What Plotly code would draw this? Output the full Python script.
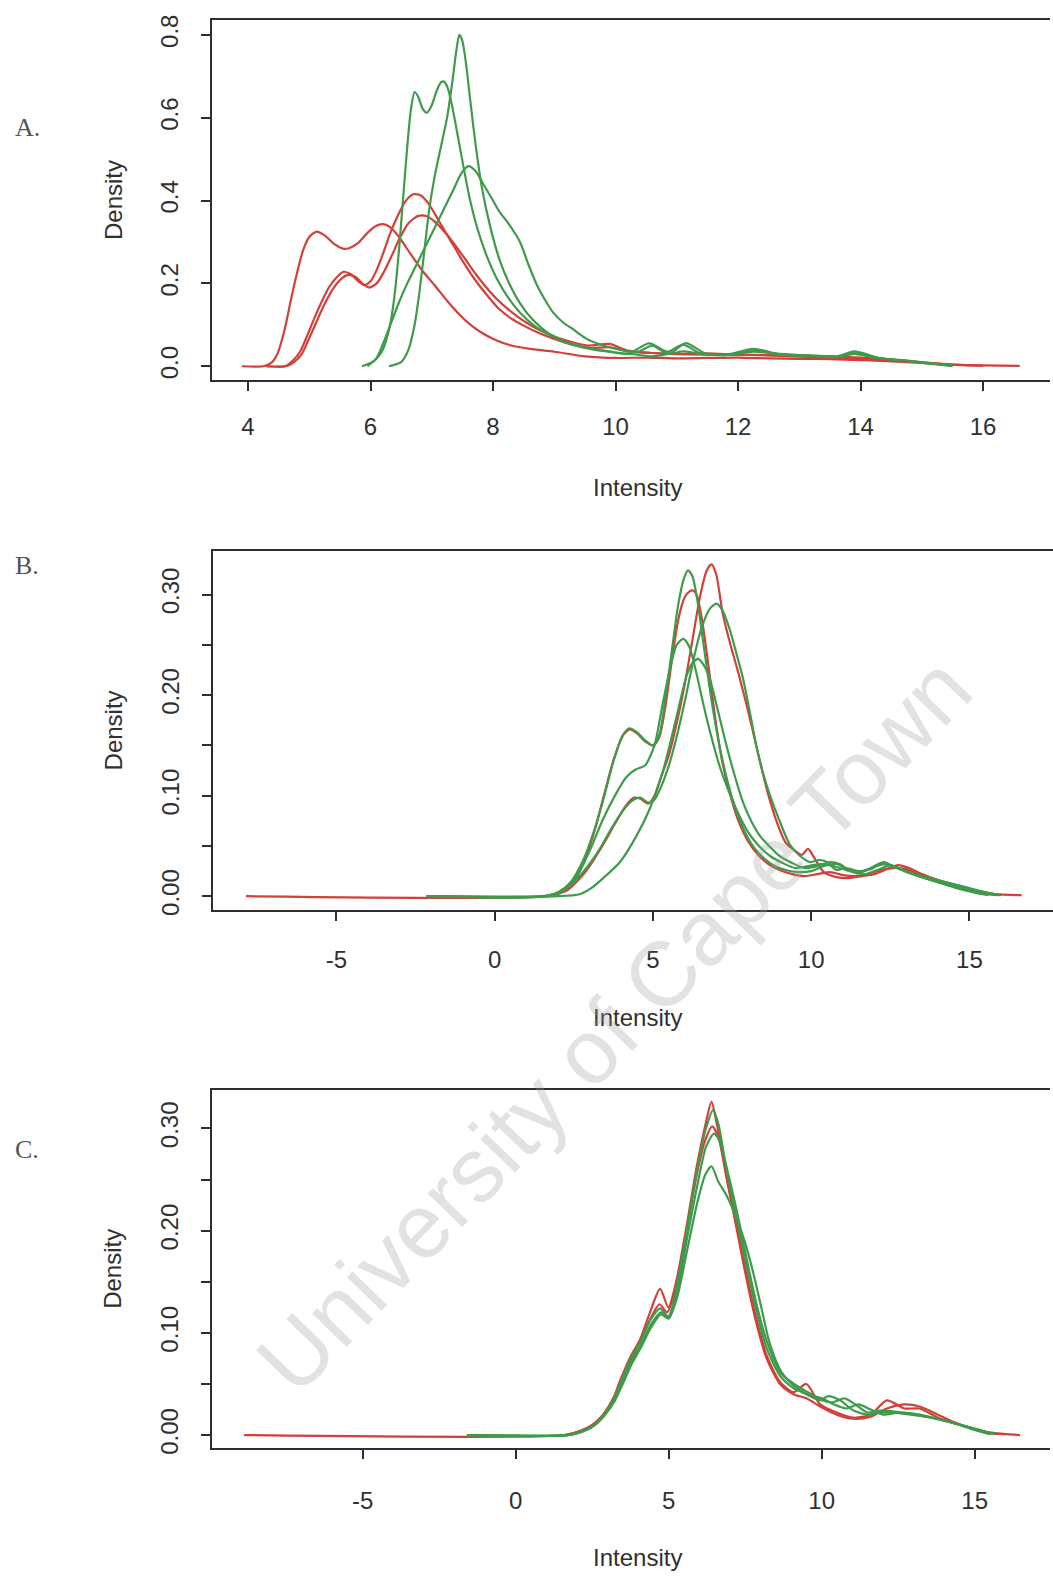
import plotly.graph_objects as go

W, H = 1053, 1581
RED = "#d2403a"
GREEN = "#3f9b4c"
INK = "#2e2e2e"

# ---------------- Panel A: raw intensities ----------------
a_red_1_x = [3.90, 4.25, 4.38, 4.48, 4.60, 4.70, 4.80, 4.90, 5.00, 5.12, 5.25, 5.40, 5.55, 5.65, 5.80, 5.95, 6.08, 6.20, 6.32, 6.45, 6.65, 6.85, 7.05, 7.25, 7.45, 7.65, 7.85, 8.05, 8.30, 8.60, 9.00, 9.50, 10.00, 10.50, 11.00, 11.50, 12.00, 12.50, 13.00, 13.50, 14.00, 14.50, 15.00, 15.50, 16.00, 16.60]
a_red_1_y = [0.000, 0.000, 0.008, 0.030, 0.090, 0.160, 0.225, 0.280, 0.312, 0.325, 0.316, 0.296, 0.284, 0.285, 0.298, 0.322, 0.338, 0.343, 0.336, 0.315, 0.272, 0.230, 0.195, 0.158, 0.125, 0.098, 0.078, 0.063, 0.050, 0.042, 0.035, 0.024, 0.020, 0.021, 0.019, 0.020, 0.021, 0.019, 0.018, 0.017, 0.015, 0.012, 0.008, 0.004, 0.002, 0.001]

a_red_2_x = [4.30, 4.60, 4.72, 4.85, 4.97, 5.08, 5.20, 5.32, 5.45, 5.56, 5.68, 5.80, 5.90, 6.00, 6.10, 6.20, 6.32, 6.45, 6.57, 6.70, 6.82, 6.95, 7.10, 7.30, 7.50, 7.70, 7.90, 8.10, 8.30, 8.50, 8.75, 9.00, 9.30, 9.60, 9.90, 10.20, 10.60, 11.00, 11.50, 12.00, 12.50, 13.00, 13.50, 14.00, 14.50, 15.00, 15.50]
a_red_2_y = [0.000, 0.000, 0.012, 0.035, 0.075, 0.115, 0.155, 0.190, 0.215, 0.228, 0.222, 0.205, 0.196, 0.205, 0.232, 0.270, 0.320, 0.365, 0.398, 0.415, 0.412, 0.392, 0.355, 0.305, 0.255, 0.210, 0.172, 0.138, 0.115, 0.098, 0.080, 0.066, 0.052, 0.044, 0.046, 0.036, 0.032, 0.030, 0.031, 0.028, 0.027, 0.026, 0.024, 0.021, 0.016, 0.010, 0.003]

a_red_3_x = [4.30, 4.62, 4.75, 4.88, 5.00, 5.12, 5.25, 5.38, 5.50, 5.62, 5.75, 5.88, 5.98, 6.10, 6.22, 6.35, 6.48, 6.62, 6.78, 6.92, 7.08, 7.28, 7.50, 7.72, 7.95, 8.15, 8.40, 8.65, 8.90, 9.20, 9.55, 9.90, 10.20, 10.60, 11.00, 11.50, 12.00, 12.50, 13.00, 13.50, 14.00, 14.50, 15.00, 15.50, 16.00]
a_red_3_y = [0.000, 0.000, 0.010, 0.030, 0.068, 0.108, 0.150, 0.185, 0.208, 0.220, 0.216, 0.198, 0.190, 0.200, 0.228, 0.268, 0.310, 0.345, 0.363, 0.362, 0.345, 0.312, 0.268, 0.222, 0.180, 0.150, 0.120, 0.096, 0.078, 0.062, 0.050, 0.054, 0.038, 0.032, 0.029, 0.028, 0.028, 0.026, 0.023, 0.021, 0.018, 0.014, 0.009, 0.004, 0.001]

a_green_1_x = [6.30, 6.50, 6.62, 6.72, 6.80, 6.88, 6.96, 7.05, 7.15, 7.25, 7.33, 7.40, 7.45, 7.50, 7.56, 7.63, 7.72, 7.82, 7.95, 8.10, 8.28, 8.45, 8.65, 8.90, 9.20, 9.55, 9.90, 10.20, 10.55, 10.85, 11.10, 11.40, 11.80, 12.25, 12.70, 13.20, 13.60, 13.90, 14.30, 14.80, 15.20, 15.50]
a_green_1_y = [0.000, 0.010, 0.040, 0.100, 0.180, 0.280, 0.380, 0.460, 0.530, 0.600, 0.680, 0.760, 0.800, 0.785, 0.730, 0.640, 0.530, 0.430, 0.340, 0.260, 0.195, 0.150, 0.112, 0.080, 0.058, 0.044, 0.036, 0.030, 0.055, 0.035, 0.052, 0.030, 0.028, 0.038, 0.028, 0.026, 0.024, 0.032, 0.020, 0.013, 0.006, 0.001]

a_green_2_x = [5.86, 6.05, 6.20, 6.32, 6.40, 6.47, 6.54, 6.60, 6.66, 6.72, 6.78, 6.85, 6.92, 7.00, 7.08, 7.15, 7.20, 7.26, 7.33, 7.42, 7.52, 7.62, 7.75, 7.90, 8.05, 8.25, 8.45, 8.70, 9.00, 9.30, 9.65, 10.00, 10.30, 10.60, 10.90, 11.15, 11.45, 11.80, 12.25, 12.70, 13.20, 13.60, 13.90, 14.30, 14.80, 15.20, 15.50]
a_green_2_y = [0.000, 0.012, 0.040, 0.100, 0.180, 0.290, 0.420, 0.530, 0.620, 0.662, 0.650, 0.622, 0.612, 0.630, 0.665, 0.685, 0.687, 0.672, 0.630, 0.560, 0.480, 0.405, 0.330, 0.265, 0.215, 0.165, 0.128, 0.095, 0.070, 0.052, 0.040, 0.033, 0.029, 0.024, 0.032, 0.056, 0.032, 0.027, 0.035, 0.030, 0.025, 0.022, 0.030, 0.019, 0.012, 0.006, 0.001]

a_green_3_x = [5.95, 6.10, 6.22, 6.35, 6.48, 6.60, 6.75, 6.90, 7.05, 7.20, 7.35, 7.48, 7.60, 7.72, 7.84, 7.98, 8.11, 8.25, 8.44, 8.58, 8.72, 8.85, 8.98, 9.15, 9.30, 9.53, 9.80, 10.07, 10.35, 10.60, 10.85, 11.10, 11.40, 11.80, 12.25, 12.70, 13.20, 13.60, 13.90, 14.30, 14.80, 15.20, 15.50]
a_green_3_y = [0.000, 0.020, 0.060, 0.110, 0.160, 0.200, 0.245, 0.290, 0.335, 0.380, 0.425, 0.465, 0.483, 0.470, 0.440, 0.405, 0.372, 0.345, 0.300, 0.245, 0.195, 0.160, 0.130, 0.105, 0.090, 0.066, 0.050, 0.040, 0.034, 0.050, 0.030, 0.036, 0.030, 0.027, 0.042, 0.028, 0.025, 0.023, 0.036, 0.020, 0.012, 0.005, 0.001]

# ---------------- Panel B: background corrected ----------------
b_red_1_x = [-7.86, 1.60, 2.10, 2.50, 2.90, 3.20, 3.45, 3.75, 4.05, 4.27, 4.50, 4.75, 5.01, 5.20, 5.40, 5.60, 5.80, 6.00, 6.15, 6.27, 6.40, 6.55, 6.75, 7.00, 7.20, 7.45, 7.70, 8.00, 8.30, 8.65, 9.00, 9.40, 9.80, 10.20, 10.60, 11.00, 11.40, 11.80, 12.20, 12.60, 13.00, 13.40, 13.80, 14.30, 14.80, 15.30, 15.80, 16.65]
b_red_1_y = [0.000, 0.000, 0.004, 0.015, 0.040, 0.070, 0.100, 0.135, 0.160, 0.166, 0.162, 0.154, 0.150, 0.158, 0.190, 0.235, 0.275, 0.297, 0.303, 0.304, 0.298, 0.275, 0.230, 0.170, 0.132, 0.100, 0.075, 0.055, 0.042, 0.032, 0.026, 0.022, 0.020, 0.022, 0.024, 0.021, 0.020, 0.022, 0.026, 0.028, 0.027, 0.022, 0.018, 0.013, 0.009, 0.005, 0.002, 0.001]

b_red_2_x = [1.80, 2.30, 2.70, 3.00, 3.40, 3.80, 4.10, 4.40, 4.60, 4.85, 5.05, 5.25, 5.50, 5.75, 6.00, 6.25, 6.50, 6.70, 6.85, 7.00, 7.20, 7.45, 7.70, 8.00, 8.30, 8.60, 8.90, 9.20, 9.50, 9.70, 9.90, 10.10, 10.40, 10.80, 11.20, 11.60, 12.00, 12.40, 12.75, 13.10, 13.50, 14.00, 14.50, 15.00, 15.50, 16.00]
b_red_2_y = [0.000, 0.006, 0.018, 0.030, 0.050, 0.072, 0.088, 0.098, 0.097, 0.092, 0.100, 0.118, 0.140, 0.172, 0.210, 0.255, 0.300, 0.324, 0.330, 0.320, 0.282, 0.250, 0.222, 0.185, 0.145, 0.106, 0.075, 0.053, 0.045, 0.041, 0.047, 0.038, 0.024, 0.019, 0.018, 0.020, 0.022, 0.027, 0.031, 0.028, 0.022, 0.016, 0.011, 0.007, 0.003, 0.001]

b_green_1_x = [-2.15, 1.50, 2.00, 2.40, 2.80, 3.15, 3.45, 3.75, 4.05, 4.25, 4.50, 4.75, 5.00, 5.20, 5.40, 5.60, 5.80, 5.98, 6.11, 6.25, 6.40, 6.60, 6.85, 7.10, 7.35, 7.60, 7.90, 8.20, 8.50, 8.85, 9.20, 9.60, 10.00, 10.40, 10.80, 11.20, 11.60, 12.00, 12.30, 12.70, 13.10, 13.50, 14.00, 14.50, 15.00, 15.50, 15.95]
b_green_1_y = [0.000, 0.000, 0.004, 0.014, 0.036, 0.066, 0.098, 0.134, 0.160, 0.167, 0.163, 0.155, 0.150, 0.160, 0.198, 0.245, 0.290, 0.316, 0.324, 0.318, 0.295, 0.250, 0.195, 0.150, 0.115, 0.088, 0.064, 0.048, 0.038, 0.030, 0.026, 0.024, 0.025, 0.030, 0.032, 0.026, 0.024, 0.030, 0.034, 0.028, 0.024, 0.020, 0.016, 0.012, 0.008, 0.004, 0.001]

b_green_2_x = [-2.15, 1.60, 2.10, 2.50, 2.90, 3.30, 3.70, 4.05, 4.35, 4.60, 4.85, 5.05, 5.30, 5.55, 5.80, 6.05, 6.30, 6.55, 6.80, 7.01, 7.20, 7.43, 7.65, 7.85, 8.05, 8.27, 8.50, 8.70, 9.00, 9.33, 9.65, 9.96, 10.25, 10.50, 10.80, 11.10, 11.50, 11.90, 12.20, 12.60, 13.00, 13.40, 13.90, 14.40, 14.90, 15.40, 15.90]
b_green_2_y = [0.000, 0.000, 0.005, 0.014, 0.028, 0.046, 0.068, 0.085, 0.095, 0.098, 0.093, 0.096, 0.112, 0.135, 0.165, 0.200, 0.238, 0.268, 0.286, 0.291, 0.284, 0.265, 0.240, 0.216, 0.185, 0.149, 0.120, 0.100, 0.075, 0.051, 0.040, 0.034, 0.036, 0.034, 0.026, 0.028, 0.025, 0.027, 0.033, 0.030, 0.025, 0.020, 0.016, 0.012, 0.008, 0.004, 0.001]

b_green_3_x = [-2.15, 1.70, 2.20, 2.60, 3.00, 3.40, 3.80, 4.15, 4.45, 4.75, 5.05, 5.30, 5.55, 5.75, 5.96, 6.15, 6.35, 6.60, 6.85, 7.10, 7.40, 7.70, 8.00, 8.35, 8.70, 9.10, 9.50, 9.90, 10.30, 10.70, 11.10, 11.50, 11.90, 12.30, 12.70, 13.10, 13.60, 14.10, 14.60, 15.10, 15.60]
b_green_3_y = [0.000, 0.000, 0.006, 0.020, 0.045, 0.075, 0.100, 0.118, 0.126, 0.130, 0.150, 0.190, 0.228, 0.250, 0.256, 0.248, 0.225, 0.190, 0.158, 0.130, 0.104, 0.082, 0.064, 0.050, 0.040, 0.033, 0.028, 0.030, 0.032, 0.030, 0.026, 0.024, 0.028, 0.032, 0.028, 0.023, 0.018, 0.013, 0.008, 0.004, 0.001]

b_green_4_x = [-2.15, 2.00, 2.69, 3.05, 3.43, 3.96, 4.48, 4.90, 5.33, 5.75, 6.06, 6.25, 6.43, 6.60, 6.80, 7.05, 7.33, 7.60, 7.85, 8.10, 8.38, 8.70, 9.00, 9.40, 9.80, 10.20, 10.60, 10.90, 11.30, 11.70, 12.10, 12.50, 12.90, 13.30, 13.80, 14.30, 14.80, 15.30, 15.90]
b_green_4_y = [0.000, 0.000, 0.002, 0.008, 0.018, 0.034, 0.060, 0.087, 0.126, 0.179, 0.219, 0.232, 0.236, 0.230, 0.216, 0.185, 0.149, 0.118, 0.093, 0.075, 0.060, 0.049, 0.040, 0.033, 0.028, 0.030, 0.034, 0.032, 0.024, 0.022, 0.026, 0.031, 0.026, 0.021, 0.016, 0.011, 0.007, 0.003, 0.001]

# ---------------- Panel C: normalised ----------------
c_red_1_x = [-8.87, 1.60, 2.10, 2.50, 2.86, 3.19, 3.41, 3.74, 4.06, 4.39, 4.72, 4.99, 5.26, 5.59, 5.92, 6.19, 6.40, 6.57, 6.90, 7.22, 7.55, 7.88, 8.20, 8.64, 9.08, 9.50, 9.95, 10.49, 11.04, 11.60, 12.13, 12.70, 13.20, 13.80, 14.30, 14.85, 15.40, 16.00, 16.48]
c_red_1_y = [0.000, 0.000, 0.004, 0.009, 0.020, 0.036, 0.053, 0.076, 0.093, 0.120, 0.143, 0.125, 0.152, 0.205, 0.263, 0.302, 0.326, 0.305, 0.253, 0.205, 0.156, 0.112, 0.078, 0.052, 0.042, 0.050, 0.030, 0.022, 0.017, 0.020, 0.034, 0.026, 0.026, 0.017, 0.012, 0.007, 0.002, 0.001, 0.000]

c_red_2_x = [1.60, 2.10, 2.50, 2.86, 3.19, 3.41, 3.74, 4.06, 4.39, 4.70, 4.95, 5.26, 5.59, 5.92, 6.19, 6.42, 6.62, 6.90, 7.22, 7.55, 7.88, 8.20, 8.64, 9.08, 9.50, 9.95, 10.49, 11.04, 11.60, 12.13, 12.70, 13.20, 13.80, 14.30, 14.85, 15.40, 16.00]
c_red_2_y = [0.000, 0.004, 0.010, 0.020, 0.035, 0.050, 0.072, 0.090, 0.113, 0.128, 0.120, 0.148, 0.200, 0.255, 0.288, 0.302, 0.292, 0.250, 0.202, 0.152, 0.108, 0.075, 0.050, 0.040, 0.036, 0.028, 0.020, 0.016, 0.018, 0.026, 0.030, 0.028, 0.020, 0.013, 0.007, 0.003, 0.001]

c_green_1_x = [-1.59, 1.70, 2.10, 2.50, 2.86, 3.19, 3.41, 3.74, 4.06, 4.39, 4.72, 4.99, 5.26, 5.59, 5.92, 6.20, 6.45, 6.62, 6.90, 7.22, 7.55, 7.88, 8.20, 8.64, 9.08, 9.50, 9.95, 10.20, 10.60, 11.04, 11.50, 11.90, 12.40, 12.90, 13.40, 13.90, 14.40, 14.90, 15.40, 15.70]
c_green_1_y = [0.000, 0.000, 0.003, 0.008, 0.019, 0.034, 0.050, 0.074, 0.090, 0.112, 0.124, 0.116, 0.145, 0.200, 0.258, 0.298, 0.318, 0.305, 0.258, 0.212, 0.165, 0.120, 0.085, 0.058, 0.046, 0.040, 0.034, 0.038, 0.034, 0.024, 0.020, 0.022, 0.022, 0.020, 0.018, 0.015, 0.011, 0.007, 0.003, 0.001]

c_green_2_x = [-1.59, 1.70, 2.15, 2.55, 2.90, 3.25, 3.50, 3.80, 4.10, 4.42, 4.75, 5.00, 5.28, 5.60, 5.94, 6.22, 6.48, 6.66, 6.95, 7.28, 7.60, 7.92, 8.25, 8.68, 9.10, 9.55, 10.00, 10.35, 10.75, 11.10, 11.50, 11.90, 12.40, 12.90, 13.40, 13.90, 14.40, 14.90, 15.40, 15.70]
c_green_2_y = [0.000, 0.000, 0.003, 0.009, 0.020, 0.036, 0.052, 0.072, 0.088, 0.108, 0.120, 0.115, 0.140, 0.192, 0.245, 0.282, 0.295, 0.288, 0.255, 0.212, 0.165, 0.122, 0.088, 0.060, 0.050, 0.042, 0.034, 0.032, 0.036, 0.030, 0.022, 0.024, 0.023, 0.021, 0.018, 0.015, 0.011, 0.007, 0.003, 0.001]

c_green_3_x = [-1.59, 1.70, 2.15, 2.55, 2.90, 3.25, 3.50, 3.80, 4.10, 4.42, 4.75, 5.00, 5.28, 5.60, 5.94, 6.20, 6.40, 6.62, 6.90, 7.22, 7.50, 7.77, 8.05, 8.30, 8.68, 9.10, 9.55, 10.00, 10.40, 10.80, 11.20, 11.60, 12.00, 12.50, 13.00, 13.50, 14.00, 14.50, 15.00, 15.50]
c_green_3_y = [0.000, 0.000, 0.003, 0.009, 0.019, 0.034, 0.050, 0.070, 0.086, 0.105, 0.118, 0.114, 0.135, 0.180, 0.228, 0.255, 0.263, 0.248, 0.234, 0.212, 0.188, 0.158, 0.122, 0.090, 0.062, 0.048, 0.040, 0.036, 0.030, 0.026, 0.030, 0.025, 0.020, 0.022, 0.021, 0.018, 0.014, 0.010, 0.005, 0.001]

# ---------------- axes ----------------
a_xticks = [4, 6, 8, 10, 12, 14, 16]
a_yticks = [0.0, 0.2, 0.4, 0.6, 0.8]
a_ytext = ["0.0", "0.2", "0.4", "0.6", "0.8"]
bc_xticks = [-5, 0, 5, 10, 15]
bc_yticks = [0.00, 0.05, 0.10, 0.15, 0.20, 0.25, 0.30]
bc_ytext = ["0.00", "", "0.10", "", "0.20", "", "0.30"]

panels = [
    dict(ax="", box=(212, 1050, 15, 378), xr=[3.412, 17.094], yr=[-0.0335, 0.836],
         xt=a_xticks, yt=a_yticks, ytt=a_ytext, xstand=15,
         red=[(a_red_1_x, a_red_1_y), (a_red_2_x, a_red_2_y), (a_red_3_x, a_red_3_y)],
         green=[(a_green_1_x, a_green_1_y), (a_green_2_x, a_green_2_y), (a_green_3_x, a_green_3_y)],
         tag="A.", tag_y=123, title_y=486),
    dict(ax="2", box=(213, 1053, 550, 912), xr=[-8.90, 17.64], yr=[-0.0138, 0.3435],
         xt=bc_xticks, yt=bc_yticks, ytt=bc_ytext, xstand=18,
         red=[(b_red_1_x, b_red_1_y), (b_red_2_x, b_red_2_y)],
         green=[(b_green_1_x, b_green_1_y), (b_green_2_x, b_green_2_y),
                (b_green_3_x, b_green_3_y), (b_green_4_x, b_green_4_y)],
         tag="B.", tag_y=565, title_y=1020),
    dict(ax="3", box=(212, 1050, 1093, 1454), xr=[-9.92, 17.46], yr=[-0.0126, 0.3379],
         xt=bc_xticks, yt=bc_yticks, ytt=bc_ytext, xstand=21,
         red=[(c_red_1_x, c_red_1_y), (c_red_2_x, c_red_2_y)],
         green=[(c_green_1_x, c_green_1_y), (c_green_2_x, c_green_2_y), (c_green_3_x, c_green_3_y)],
         tag="C.", tag_y=1153, title_y=1564),
]

fig = go.Figure()
layout = dict(
    width=W, height=H, margin=dict(l=0, r=0, t=0, b=0),
    paper_bgcolor="white", plot_bgcolor="white", showlegend=False,
    font=dict(family="Liberation Sans, Arial, sans-serif", color=INK),
)
annotations = []

tick_font = dict(family="Liberation Sans, Arial, sans-serif", size=24, color="#303030")

for p in panels:
    l, r, t, b = p["box"]
    xa, ya = "xaxis" + p["ax"], "yaxis" + p["ax"]
    xref, yref = "x" + p["ax"], "y" + p["ax"]
    for cx, cy in p["red"]:
        fig.add_trace(go.Scatter(x=cx, y=cy, mode="lines", xaxis=xref, yaxis=yref,
                                 line=dict(color=RED, width=2.2, shape="spline", smoothing=0.7),
                                 hoverinfo="skip"))
    for cx, cy in p["green"]:
        fig.add_trace(go.Scatter(x=cx, y=cy, mode="lines", xaxis=xref, yaxis=yref,
                                 line=dict(color=GREEN, width=2.2, shape="spline", smoothing=0.7),
                                 hoverinfo="skip"))
    layout[xa] = dict(
        domain=[l / W, r / W], range=p["xr"], anchor=yref,
        showline=True, linecolor=INK, linewidth=1.6, mirror=True,
        ticks="outside", ticklen=9, tickwidth=1.6, tickcolor=INK,
        tickvals=p["xt"], ticktext=[str(v) for v in p["xt"]],
        tickfont=tick_font, ticklabelstandoff=p["xstand"],
        showgrid=False, zeroline=False, fixedrange=True,
    )
    layout[ya] = dict(
        domain=[1 - b / H, 1 - t / H], range=p["yr"], anchor=xref,
        showline=True, linecolor=INK, linewidth=1.6, mirror=False,
        ticks="outside", ticklen=9, tickwidth=1.6, tickcolor=INK,
        tickvals=p["yt"], ticktext=p["ytt"], tickangle=-90,
        tickfont=tick_font, ticklabelstandoff=14,
        showgrid=False, zeroline=False, fixedrange=True,
    )
    annotations.append(dict(text="Intensity", x=637 / W, y=1 - p["title_y"] / H,
                            xref="paper", yref="paper", showarrow=False,
                            xanchor="center", yanchor="middle",
                            font=dict(size=24, color="#303030")))
    annotations.append(dict(text="Density", x=113 / W, y=1 - ((t + b) / 2) / H,
                            xref="paper", yref="paper", showarrow=False, textangle=-90,
                            xanchor="center", yanchor="middle",
                            font=dict(size=24, color="#303030")))
    annotations.append(dict(text=p["tag"], x=27 / W, y=1 - p["tag_y"] / H,
                            xref="paper", yref="paper", showarrow=False,
                            xanchor="center", yanchor="middle",
                            font=dict(family="Liberation Serif, Times New Roman, serif",
                                      size=26, color="#555555")))

# diagonal watermark across the page
annotations.append(dict(text="University of Cape Town", x=614 / W, y=1 - 1027 / H,
                        xref="paper", yref="paper", showarrow=False, textangle=-46,
                        xanchor="center", yanchor="middle",
                        font=dict(family="Liberation Sans, Arial, sans-serif", size=91,
                                  color="rgba(160,160,160,0.30)")))

layout["annotations"] = annotations
fig.update_layout(**layout)
fig.write_html("out.html", include_plotlyjs=True, config={"displayModeBar": False})
